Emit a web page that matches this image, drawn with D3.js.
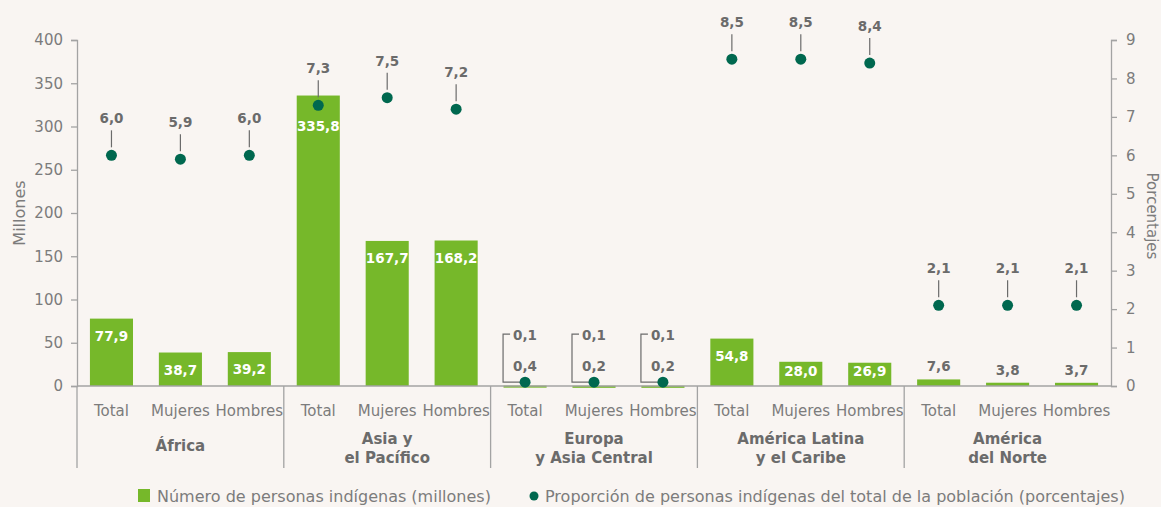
<!DOCTYPE html>
<html>
<head>
<meta charset="utf-8">
<script src="https://cdn.jsdelivr.net/npm/d3@7"></script>
<style>
  html, body { margin: 0; padding: 0; background: #f9f5f2; }
  svg { display: block; font-family: "DejaVu Sans", sans-serif; }
</style>
</head>
<body>
<svg id="chart"></svg>
<script>
// data
const regions = ["África", "Asia y|el Pacífico", "Europa|y Asia Central", "América Latina|y el Caribe", "América|del Norte"];
const subgroups = ["Total", "Mujeres", "Hombres"];
const millions = [[77.9, 38.7, 39.2], [335.8, 167.7, 168.2], [0.4, 0.2, 0.2], [54.8, 28.0, 26.9], [7.6, 3.8, 3.7]];
const percents = [[6.0, 5.9, 6.0], [7.3, 7.5, 7.2], [0.1, 0.1, 0.1], [8.5, 8.5, 8.4], [2.1, 2.1, 2.1]];
const leftTicks = [0, 50, 100, 150, 200, 250, 300, 350, 400];
const rightTicks = [0, 1, 2, 3, 4, 5, 6, 7, 8, 9];
const legendLabels = ["Número de personas indígenas (millones)", "Proporción de personas indígenas del total de la población (porcentajes)"];

const width = 1161, height = 507;
const x0 = 77, x1 = 1111, yTop = 40, yBase = 386;
const green = "#76b82a", dotColor = "#00684f", grey = "#6b6b6b", lightGrey = "#7c7c7c", lineGrey = "#a3a3a3";
const fmt = v => d3.format(".1f")(v).replace(".", ",");

const svg = d3.select("#chart").attr("width", width).attr("height", height);

const rows = [];
regions.forEach((r, gi) => subgroups.forEach((s, si) => {
  rows.push({ key: gi + "-" + si, region: r, sub: s, m: millions[gi][si], p: percents[gi][si] });
}));

const x = d3.scaleBand().domain(rows.map(d => d.key)).range([x0, x1]).paddingInner(0.375).paddingOuter(0.1875);
const xg = d3.scaleBand().domain(regions).range([x0, x1]);
const yL = d3.scaleLinear().domain([0, 400]).range([yBase, yTop]);
const yR = d3.scaleLinear().domain([0, 9]).range([yBase, yTop]);
const cx = d => x(d.key) + x.bandwidth() / 2;

// axes
const gl = svg.append("g").attr("transform", `translate(${x0},0)`)
  .call(d3.axisLeft(yL).tickValues(leftTicks).tickSize(6).tickPadding(8));
const gr = svg.append("g").attr("transform", `translate(${x1},0)`)
  .call(d3.axisRight(yR).tickValues(rightTicks).tickSize(6).tickPadding(9));
[gl, gr].forEach(g => {
  g.select(".domain").attr("stroke", lineGrey).attr("stroke-width", 1.3);
  g.selectAll(".tick line").attr("stroke", lineGrey).attr("stroke-width", 1.3);
  g.selectAll(".tick text").attr("fill", lightGrey).style("font-size", "15px").style("font-family", "DejaVu Sans");
});

svg.append("text").attr("transform", `translate(25,${(yTop + yBase) / 2}) rotate(-90)`)
  .attr("text-anchor", "middle").attr("fill", lightGrey).style("font-size", "16px").text("Millones");
svg.append("text").attr("transform", `translate(1147,${(yTop + yBase) / 2 + 3}) rotate(90)`)
  .attr("text-anchor", "middle").attr("fill", lightGrey).style("font-size", "15px").text("Porcentajes");

// bars
svg.append("g").selectAll("rect").data(rows).join("rect")
  .attr("x", d => x(d.key)).attr("width", x.bandwidth())
  .attr("y", d => yL(d.m)).attr("height", d => Math.max(yBase - yL(d.m), 2))
  .attr("fill", green);

// base line and group separators
svg.append("line").attr("x1", x0).attr("x2", x1).attr("y1", yBase).attr("y2", yBase)
  .attr("stroke", lineGrey).attr("stroke-width", 1.3);
svg.append("g").selectAll("line").data(regions).join("line")
  .attr("x1", d => xg(d)).attr("x2", d => xg(d))
  .attr("y1", yBase).attr("y2", 468)
  .attr("stroke", lineGrey).attr("stroke-width", 1.3);

// category labels
svg.append("g").selectAll("text").data(rows).join("text")
  .attr("x", cx).attr("y", 416)
  .attr("text-anchor", "middle").attr("fill", lightGrey).style("font-size", "15px")
  .text(d => d.sub);

// region labels
const rl = svg.append("g").selectAll("text").data(regions).join("text")
  .attr("x", d => xg(d) + xg.bandwidth() / 2)
  .attr("y", d => d.includes("|") ? 444 : 451)
  .attr("text-anchor", "middle").attr("fill", grey)
  .style("font-size", "15px").style("font-weight", "bold");
rl.selectAll("tspan").data(d => d.split("|")).join("tspan")
  .attr("x", function () { return d3.select(this.parentNode).attr("x"); })
  .attr("dy", (d, i) => i ? 19 : 0).text(d => d);

// bar value labels
function barLabelY(d) {
  const top = yL(d.m), dotY = yR(d.p);
  if (d.m >= 20) {
    let yy = Math.min(top + 22, yBase - 10);
    if (dotY > top - 6 && dotY < top + 12) yy = dotY + 26;
    return yy;
  }
  if (d.p < 1) return yR(d.p) - 11;
  return top - 8;
}
svg.append("g").selectAll("text").data(rows).join("text")
  .attr("x", cx).attr("y", barLabelY)
  .attr("text-anchor", "middle")
  .attr("fill", d => d.m >= 20 ? "#ffffff" : grey)
  .style("font-size", "13.5px").style("font-weight", "bold")
  .text(d => fmt(d.m));

// dot leaders and labels
const big = rows.filter(d => d.p >= 1);
const small = rows.filter(d => d.p < 1);

svg.append("g").selectAll("line").data(big).join("line")
  .attr("x1", cx).attr("x2", cx)
  .attr("y1", d => yR(d.p) - 8).attr("y2", d => yR(d.p) - 25)
  .attr("stroke", grey).attr("stroke-width", 1.2);
svg.append("g").selectAll("text").data(big).join("text")
  .attr("x", cx).attr("y", d => yR(d.p) - 32)
  .attr("text-anchor", "middle").attr("fill", grey)
  .style("font-size", "13.5px").style("font-weight", "bold")
  .text(d => fmt(d.p));

svg.append("g").selectAll("path").data(small).join("path")
  .attr("d", d => {
    const bx = cx(d) - 22, top = yR(d.p) - 48;
    return `M${cx(d)},${yR(d.p)}H${bx}V${top}H${bx + 7}`;
  })
  .attr("fill", "none").attr("stroke", grey).attr("stroke-width", 1.2);
svg.append("g").selectAll("text").data(small).join("text")
  .attr("x", d => cx(d) - 12).attr("y", d => yR(d.p) - 42)
  .attr("fill", grey).style("font-size", "13.5px").style("font-weight", "bold")
  .text(d => fmt(d.p));

// dots
svg.append("g").selectAll("circle").data(rows).join("circle")
  .attr("cx", cx).attr("cy", d => yR(d.p)).attr("r", 5.5)
  .attr("fill", dotColor);

// legend
const lg = svg.append("g").attr("transform", "translate(138,496)");
lg.append("rect").attr("x", 0).attr("y", -7).attr("width", 12).attr("height", 13).attr("fill", green);
lg.append("text").attr("x", 19).attr("y", 6).attr("fill", lightGrey).style("font-size", "16px").text(legendLabels[0]);
lg.append("circle").attr("cx", 396).attr("cy", 0).attr("r", 4.5).attr("fill", dotColor);
lg.append("text").attr("x", 407).attr("y", 6).attr("fill", lightGrey).style("font-size", "16px").text(legendLabels[1]);
</script>
</body>
</html>
